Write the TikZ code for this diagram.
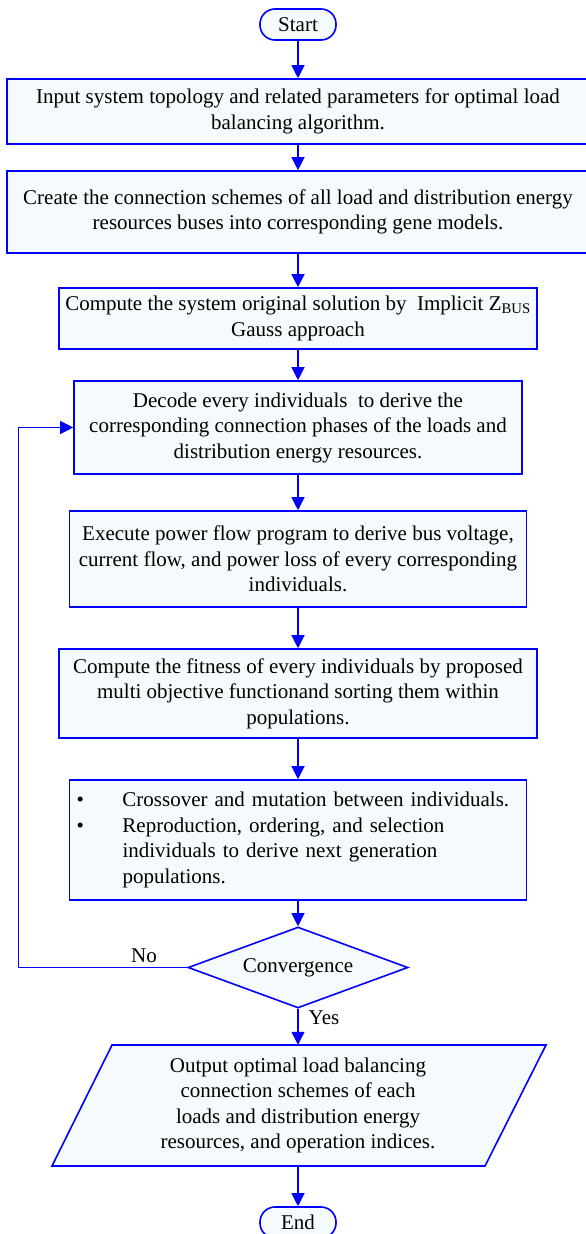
\documentclass[tikz,border=0pt]{standalone}
\usepackage{fontspec}
\setmainfont{Liberation Serif}
\usetikzlibrary{arrows.meta,shapes.geometric}
\definecolor{fc}{RGB}{245,251,252}
\definecolor{bl}{RGB}{0,0,255}
\begin{document}
\begin{tikzpicture}[x=1pt,y=-1pt,
  every node/.style={font=\fontsize{21}{25.5}\selectfont},
  box/.style={draw=bl, line width=1.6pt, fill=fc, inner sep=0pt, align=center},
  term/.style={box, rounded corners=15pt, minimum width=76pt, minimum height=31pt},
  arr/.style={draw=bl, line width=1.2pt, -{Triangle[length=13pt,width=13pt]}},
  fbarr/.style={draw=bl, line width=1pt, -{Triangle[length=13pt,width=13pt]}},
  lbl/.style={inner sep=0pt}]
\useasboundingbox (0,0) rectangle (586,1234);

\node[term] (start) at (298,24.5) {Start};
\node[box, minimum width=582pt, minimum height=65pt] (b1) at (298,111.5)
  {Input system topology and related parameters for optimal load\\balancing algorithm.};
\node[box, minimum width=582pt, minimum height=82pt] (b2) at (298,212)
  {Create the connection schemes of all load and distribution energy\\resources buses into corresponding gene models.};
\node[box, minimum width=478pt, minimum height=61pt] (b3) at (298,318.5)
  {Compute the system original solution by~ Implicit Z\textsubscript{BUS}\\Gauss approach};
\node[box, minimum width=448pt, minimum height=93pt] (b4) at (298,427.5)
  {Decode every individuals~ to derive the\\corresponding connection phases of the loads and\\distribution energy resources.};
\node[box, minimum width=457pt, minimum height=96pt] (b5) at (298,559)
  {Execute power flow program to derive bus voltage,\\current flow, and power loss of every corresponding\\individuals.};
\node[box, minimum width=478pt, minimum height=89pt] (b6) at (298,693.5)
  {Compute the fitness of every individuals by proposed\\multi objective functionand sorting them within\\populations.};
\node[box, minimum width=457pt, minimum height=120pt, inner xsep=7pt, text width=443pt, align=left] (b7) at (298,840)
  {\makebox[46pt][l]{\textbullet}Crossover and mutation between individuals.\\
   \makebox[46pt][l]{\textbullet}Reproduction, ordering, and selection\\
   \hspace*{46pt}individuals to derive next generation\\
   \hspace*{46pt}populations.};
\node[draw=bl, line width=1.6pt, fill=fc, diamond, aspect=2.7, inner sep=0pt,
  minimum width=220pt, minimum height=81pt] (dia) at (298,967.5) {Convergence};

\draw[draw=bl, line width=1.6pt, fill=fc] (112,1045) -- (546,1045) -- (485,1166) -- (52,1166) -- cycle;
\node[inner sep=0pt, minimum width=434pt, minimum height=121pt, align=center] (out) at (298,1105.5)
  {Output optimal load balancing\\connection schemes of each\\loads and distribution energy\\resources, and operation indices.};

\node[term] (end) at (298,1222.5) {End};

\node[lbl] (no) at (144,956) {No};
\node[lbl] (yes) at (324,1018) {Yes};

\draw[arr] (start) -- (b1);
\draw[arr] (b1) -- (b2);
\draw[arr] (b2) -- (b3);
\draw[arr] (b3) -- (b4);
\draw[arr] (b4) -- (b5);
\draw[arr] (b5) -- (b6);
\draw[arr] (b6) -- (b7);
\draw[arr] (b7) -- (dia);
\draw[arr] (dia.south) -- (out.north);
\draw[arr] (out.south) -- (end);
\coordinate (fb) at (18,967.5);
\draw[fbarr] (dia.west) -- (fb) |- (b4.west);
\end{tikzpicture}
\end{document}
